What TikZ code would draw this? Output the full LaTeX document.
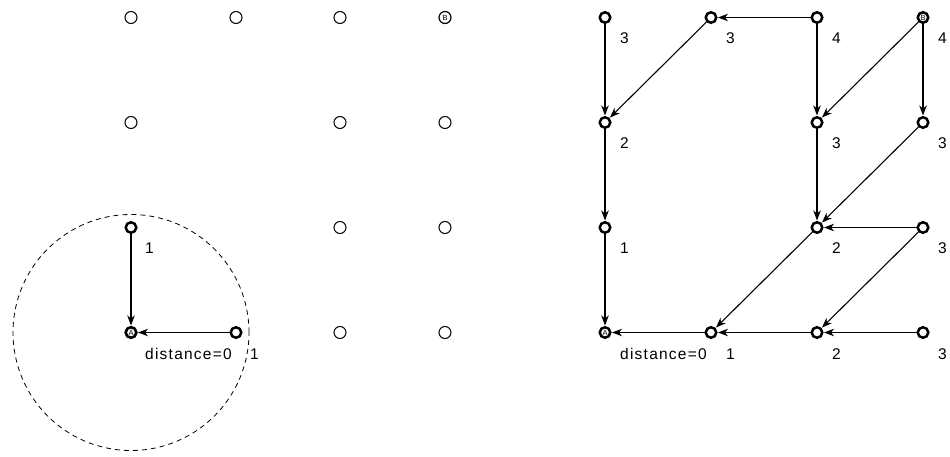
\documentclass[tikz,border=0pt]{standalone}
\usepackage{fontspec}
\setmainfont{Liberation Sans}
\newfontfamily\lblfont{Liberation Sans}[LetterSpace=8]
\usetikzlibrary{arrows.meta}
\begin{document}
\begin{tikzpicture}[x=1pt,y=-1pt,
  dot/.style={circle,draw,line width=1pt,minimum size=12pt,inner sep=0pt,fill=white},
  bdot/.style={circle,draw,line width=2.5pt,minimum size=10.5pt,inner sep=0pt,fill=white},
  arr/.style={-{Stealth[length=10pt,width=7.5pt,inset=3pt]},line width=1.1pt,shorten >=0.5pt},
  lbl/.style={anchor=west,font=\lblfont\fontsize{15.5}{16}\selectfont,inner sep=0pt},
  letter/.style={font=\fontsize{7.5}{8}\selectfont}]
\useasboundingbox (0,0) rectangle (950,457);
% ---------- left grid ----------
\node[bdot,letter] (L30) at (131,332.5) {A};
\draw[dash pattern=on 5pt off 4pt,line width=0.8pt] (L30.center) circle[radius=118pt];
\node[dot] (L00) at (131,17.5) {};
\node[dot] (L01) at (236,17.5) {};
\node[dot] (L02) at (340,17.5) {};
\node[dot,letter,line width=1.2pt] (L03) at (445,17.5) {B};
\node[dot] (L10) at (131,122.5) {};
\node[dot] (L12) at (340,122.5) {};
\node[dot] (L13) at (445,122.5) {};
\node[bdot] (L20) at (131,227.5) {};
\node[dot] (L22) at (340,227.5) {};
\node[dot] (L23) at (445,227.5) {};
\node[bdot,letter] (L30b) at (131,332.5) {A};
\node[bdot] (L31) at (236,332.5) {};
\node[dot] (L32) at (340,332.5) {};
\node[dot] (L33) at (445,332.5) {};
\node[lbl] (tL20) at (145,248.5) {1};
\node[lbl] (tL30) at (145,354) {distance=0};
\node[lbl] (tL31) at (250,354) {1};
\draw[arr] (L20) -- (L30b);
\draw[arr] (L31) -- (L30b);
% ---------- right grid ----------
\node[bdot] (R00) at (605,17.5) {};
\node[bdot] (R01) at (711,17.5) {};
\node[bdot] (R02) at (817,17.5) {};
\node[bdot,letter] (R03) at (923,17.5) {B};
\node[bdot] (R10) at (605,122.5) {};
\node[bdot] (R12) at (817,122.5) {};
\node[bdot] (R13) at (923,122.5) {};
\node[bdot] (R20) at (605,227.5) {};
\node[bdot] (R22) at (817,227.5) {};
\node[bdot] (R23) at (923,227.5) {};
\node[bdot,letter] (R30) at (605,332.5) {A};
\node[bdot] (R31) at (711,332.5) {};
\node[bdot] (R32) at (817,332.5) {};
\node[bdot] (R33) at (923,332.5) {};
\node[lbl] (tR00) at (620,38.5) {3};
\node[lbl] (tR01) at (726,38.5) {3};
\node[lbl] (tR02) at (832,38.5) {4};
\node[lbl] (tR03) at (938,38.5) {4};
\node[lbl] (tR10) at (620,143.5) {2};
\node[lbl] (tR12) at (832,143.5) {3};
\node[lbl] (tR13) at (938,143.5) {3};
\node[lbl] (tR20) at (620,248.5) {1};
\node[lbl] (tR22) at (832,248.5) {2};
\node[lbl] (tR23) at (938,248.5) {3};
\node[lbl] (tR30) at (620,354) {distance=0};
\node[lbl] (tR31) at (726,354) {1};
\node[lbl] (tR32) at (832,354) {2};
\node[lbl] (tR33) at (938,354) {3};
\draw[arr] (R00) -- (R10);
\draw[arr] (R01) -- (R10);
\draw[arr] (R02) -- (R01);
\draw[arr] (R02) -- (R12);
\draw[arr] (R03) -- (R12);
\draw[arr] (R03) -- (R13);
\draw[arr] (R10) -- (R20);
\draw[arr] (R20) -- (R30);
\draw[arr] (R12) -- (R22);
\draw[arr] (R13) -- (R22);
\draw[arr] (R23) -- (R22);
\draw[arr] (R22) -- (R31);
\draw[arr] (R23) -- (R32);
\draw[arr] (R31) -- (R30);
\draw[arr] (R32) -- (R31);
\draw[arr] (R33) -- (R32);
\end{tikzpicture}
\end{document}
